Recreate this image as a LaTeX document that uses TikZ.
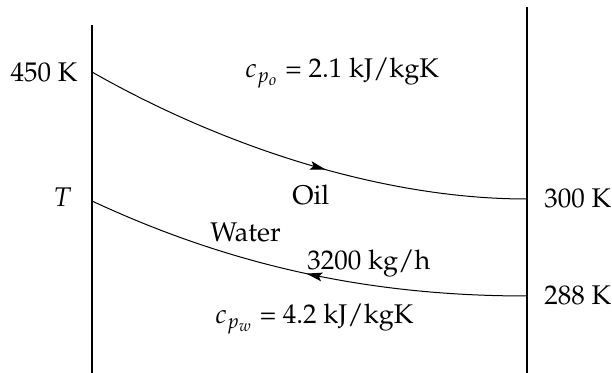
\documentclass[tikz,border=0pt]{standalone}
\usepackage[T1]{fontenc}
\usepackage{mathpazo}
\usetikzlibrary{arrows.meta,decorations.markings}
\begin{document}
\begin{tikzpicture}[x=0.5pt,y=-0.5pt,
  lbl/.style={inner sep=0pt,font=\fontsize{13.5}{16}\selectfont},
  axisline/.style={line width=0.55pt},
  flow/.style={line width=0.5pt},
  tip/.style={},
  fwd/.style={postaction={decorate},decoration={markings,
     mark=at position #1 with {\arrow{Stealth[length=8pt,width=4.4pt,inset=1.6pt]}}}},
  bwd/.style={postaction={decorate},decoration={markings,
     mark=at position #1 with {\arrowreversed{Stealth[length=8pt,width=4.4pt,inset=1.6pt]}}}}]
\useasboundingbox (0,0) rectangle (612,373);
% vertical lines
\coordinate (Ltop) at (92,25);
\coordinate (Lbot) at (92,373);
\coordinate (Rtop) at (527,7);
\coordinate (Rbot) at (527,373);
\draw[axisline] (Ltop) -- (Lbot);
\draw[axisline] (Rtop) -- (Rbot);
% curve end points
\coordinate (oilin) at (92,72);
\coordinate (oilout) at (527,199);
\coordinate (watin) at (527,296);
\coordinate (watout) at (92,201);
% oil curve
\draw[flow,fwd=0.555] (oilin) .. controls (220,145) and (380,199) .. (oilout);
% water curve
\draw[flow,bwd=0.505] (watout) .. controls (240,270) and (380,296) .. (watin);
% labels
\node[lbl,anchor=base east] (t450) at (78,82) {450 K};
\node[lbl,anchor=base east] (tT) at (72,207) {$T$};
\node[lbl,anchor=base west] (t300) at (544,208) {300 K};
\node[lbl,anchor=base west] (t288) at (544,305) {288 K};
\node[lbl,anchor=base west] (cpo) at (245,78) {$c_{p_o}$ = 2.1 kJ/kgK};
\node[lbl,anchor=base west] (cpw) at (215,324) {$c_{p_w}$ = 4.2 kJ/kgK};
\node[lbl,anchor=base west] (oil) at (292,205) {Oil};
\node[lbl,anchor=base west] (water) at (210,242) {Water};
\node[lbl,anchor=base west] (mdot) at (307,270) {3200 kg/h};
\end{tikzpicture}
\end{document}
